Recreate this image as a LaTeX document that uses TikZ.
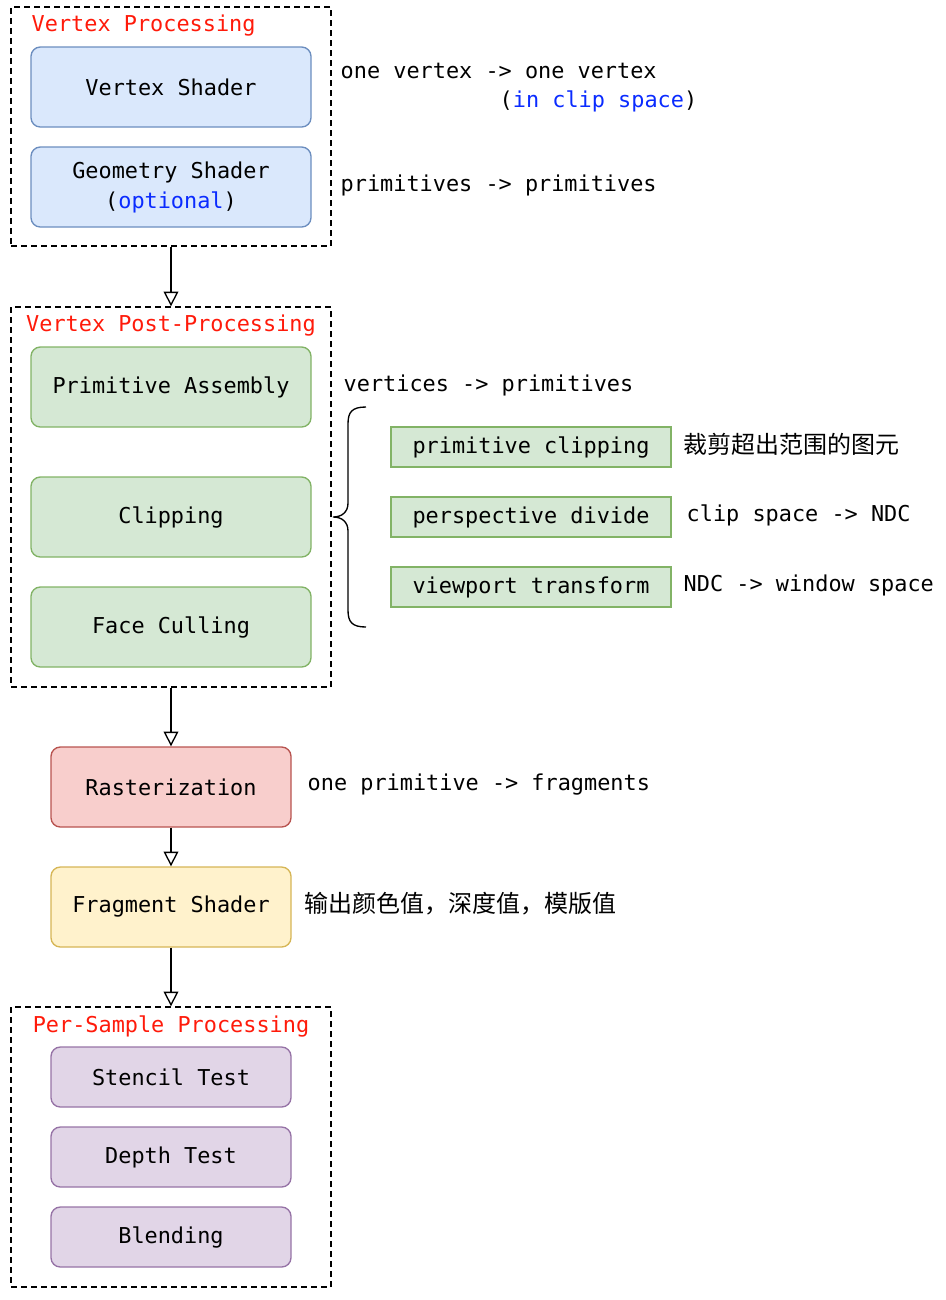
\documentclass[tikz,border=0pt]{standalone}
\usepackage{fontspec}
\setmonofont{DejaVu Sans Mono}
\newfontfamily\cjk{Noto Sans CJK SC}
\usetikzlibrary{positioning,arrows.meta,decorations.pathreplacing,shapes,calc,fit}

\definecolor{bluefill}{HTML}{DAE8FC}\definecolor{blueline}{HTML}{6C8EBF}
\definecolor{greenfill}{HTML}{D5E8D4}\definecolor{greenline}{HTML}{82B366}
\definecolor{redfill}{HTML}{F8CECC}\definecolor{redline}{HTML}{B85450}
\definecolor{yellowfill}{HTML}{FFF2CC}\definecolor{yellowline}{HTML}{D6B656}
\definecolor{purplefill}{HTML}{E1D5E7}\definecolor{purpleline}{HTML}{9673A6}
\definecolor{titlered}{HTML}{FF1A0A}\definecolor{noteblue}{HTML}{0A2BFF}

\tikzset{
  every node/.style={font=\ttfamily\fontsize{16.4}{19}\selectfont},
  group/.style={draw, dashed, dash pattern=on 4.5pt off 3pt, line width=1pt, minimum width=240pt},
  stage/.style={draw, rounded corners=7pt, line width=1pt, minimum width=210pt, minimum height=60pt, align=center},
  sub/.style={stage, minimum width=180pt},
  test/.style={sub, minimum height=45pt, fill=purplefill, draw=purpleline},
  part/.style={draw=greenline, fill=greenfill, line width=1pt, minimum width=210pt, minimum height=30pt},
  title/.style={text=titlered},
  note/.style={anchor=west},
  >={Triangle[open,length=11pt,width=11pt]}
}

\begin{document}
\begin{tikzpicture}[x=0.75pt,y=-0.75pt]
\useasboundingbox (0,0) rectangle (946,1300);

\node[group, minimum height=179.25pt] (g1) at (171,126.5) {};
\node[title, anchor=west] (t1) at (27,26) {Vertex Processing};
\node[stage, fill=bluefill, draw=blueline] (vs) at (171,87) {Vertex Shader};
\node[stage, fill=bluefill, draw=blueline, font=\ttfamily\fontsize{16.4}{22.5}\selectfont] (gs) at (171,187) {Geometry Shader\\(\textcolor{noteblue}{optional})};
\node[note] (n1) at (336,71) {one vertex -> one vertex};
\node[note] (n2) at (495,101) {(\textcolor{noteblue}{in clip space})};
\node[note] (n3) at (336,185) {primitives -> primitives};

\node[group, minimum height=285pt] (g2) at (171,497) {};
\node[title] (t2) at (171,326) {Vertex Post-Processing};
\node[stage, fill=greenfill, draw=greenline] (pa) at (171,387) {Primitive Assembly};
\node[stage, fill=greenfill, draw=greenline] (clip) at (171,517) {Clipping};
\node[stage, fill=greenfill, draw=greenline] (fc) at (171,627) {Face Culling};
\node[note] (n4) at (339,385) {vertices -> primitives};

\coordinate (bt) at (366,407);
\coordinate (bm) at (333,517);
\coordinate (bb) at (366,627);
\draw[line width=1pt] (bt) .. controls (352,407) and (348,412) .. (348,424) -- (348,503)
  .. controls (348,512) and (342,517) .. (bm) .. controls (342,517) and (348,522) .. (348,531)
  -- (348,610) .. controls (348,622) and (352,627) .. (bb);

\node[part] (pc) at (531,447) {primitive clipping};
\node[part] (pd) at (531,517) {perspective divide};
\node[part] (vt) at (531,587) {viewport transform};
\node[note, font=\cjk\fontsize{18}{20}\selectfont] (n5) at (679,444) {裁剪超出范围的图元};
\node[note] (n6) at (682,515) {clip space -> NDC};
\node[note] (n7) at (679,585) {NDC -> window space};

\node[sub, fill=redfill, draw=redline] (ras) at (171,787) {Rasterization};
\node[note] (n8) at (303,785) {one primitive -> fragments};
\node[sub, fill=yellowfill, draw=yellowline] (fs) at (171,907) {Fragment Shader};
\node[note, font=\cjk\fontsize{18}{20}\selectfont] (n9) at (300,904) {输出颜色值，深度值，模版值};

\node[group, minimum height=210pt] (g3) at (171,1147) {};
\node[title] (t3) at (171,1026) {Per-Sample Processing};
\node[test] (st) at (171,1077) {Stencil Test};
\node[test] (dt) at (171,1157) {Depth Test};
\node[test] (bl) at (171,1237) {Blending};

\draw[->, line width=1pt] (g1) -- (g2);
\draw[->, line width=1pt] (g2) -- (ras);
\draw[->, line width=1pt] (ras) -- (fs);
\draw[->, line width=1pt] (fs) -- (g3);

\end{tikzpicture}
\end{document}
